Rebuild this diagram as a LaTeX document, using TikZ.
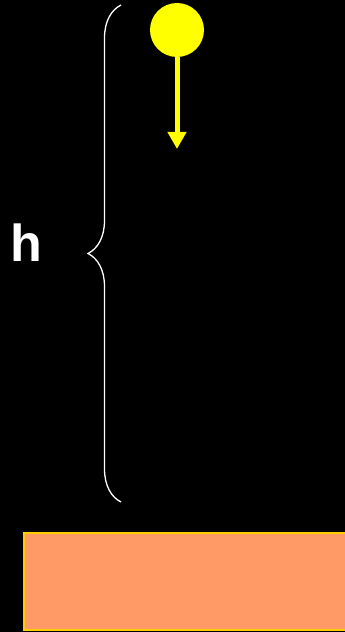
\documentclass[tikz,border=0pt]{standalone}
\usepackage{fontspec}
\setsansfont{Liberation Sans}
\usepackage{tikz}
\usetikzlibrary{arrows.meta,positioning,decorations.pathreplacing}
\usepackage{xcolor}
\definecolor{ballyellow}{RGB}{255,255,0}
\definecolor{groundorange}{RGB}{255,153,102}
\definecolor{edgegold}{RGB}{255,204,0}

\begin{document}
\begin{tikzpicture}[
    x=1pt,y=1pt,
    ball/.style={circle,fill=ballyellow,inner sep=0pt,minimum size=54pt},
    ground/.style={rectangle,fill=groundorange,draw=edgegold,line width=1.5pt,minimum width=323pt,minimum height=97pt,inner sep=0pt},
    fall/.style={-{Triangle[length=17pt,width=18pt]},line width=5pt,ballyellow},
    heightbrace/.style={decorate,decoration={brace,amplitude=33pt},draw=white,line width=1.3pt}
]
\fill[black] (0,0) rectangle (345,632);
\useasboundingbox (0,0) rectangle (345,632);
\node[ball] (b) at (177,602) {};
\coordinate (tip) at (177,483);
\draw[fall] (b.south) -- (tip);
\coordinate (btop) at (121,627);
\coordinate (bbot) at (121,130);
\draw[heightbrace] (bbot) -- (btop);
\node[text=white,font=\sffamily\bfseries\fontsize{52}{52}\selectfont] (h) at (26,389) {h};
\node[ground] (g) at (185.5,50.5) {};
\end{tikzpicture}
\end{document}
